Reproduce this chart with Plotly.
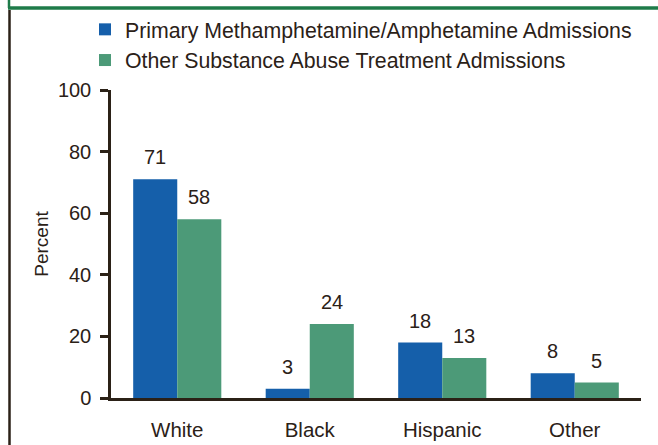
import plotly.graph_objects as go

categories = ["White", "Black", "Hispanic", "Other"]
meth_values = [71, 3, 18, 8]
other_values = [58, 24, 13, 5]
series_names = ["Primary Methamphetamine/Amphetamine Admissions",
                "Other Substance Abuse Treatment Admissions"]
y_ticks = [0, 20, 40, 60, 80, 100]

BLUE = "#155FAA"
GREEN = "#4C9A78"
INK = "#2B2117"
FRAME_GREEN = "#1E7B49"
FONT = "Liberation Sans, Arial, sans-serif"

fig = go.Figure()
fig.add_trace(go.Bar(x=categories, y=meth_values, name=series_names[0],
                     marker=dict(color=BLUE, line=dict(width=0))))
fig.add_trace(go.Bar(x=categories, y=other_values, name=series_names[1],
                     marker=dict(color=GREEN, line=dict(width=0))))

# value labels above bars
annotations = []
for i, c in enumerate(categories):
    for vals, off in ((meth_values, -0.165), (other_values, 0.165)):
        annotations.append(dict(x=i + off, y=vals[i], xref="x", yref="y",
                                text=str(vals[i]), showarrow=False,
                                yanchor="bottom", yshift=9,
                                font=dict(size=20, color=INK, family=FONT)))

W, H = 658, 445
L, R, T, B = 111, 17, 90, 47
pw, ph = W - L - R, H - T - B

def px(x):
    return (x - L) / pw

def py(y):
    return (H - B - y) / ph

shapes = [
    dict(type="line", xref="paper", yref="paper", x0=px(8), x1=px(660),
         y0=py(8), y1=py(8), line=dict(color=FRAME_GREEN, width=3.5)),
    dict(type="line", xref="paper", yref="paper", x0=px(9), x1=px(9),
         y0=py(-2), y1=py(8), line=dict(color=FRAME_GREEN, width=2.5)),
    dict(type="line", xref="paper", yref="paper", x0=px(9.5), x1=px(9.5),
         y0=py(10), y1=py(447), line=dict(color=INK, width=2.5)),
]

fig.update_layout(
    width=W, height=H,
    margin=dict(l=L, r=R, t=T, b=B, autoexpand=False),
    paper_bgcolor="white", plot_bgcolor="white",
    font=dict(family=FONT, color=INK, size=20),
    barmode="group", bargap=0.335, bargroupgap=0,
    showlegend=True,
    legend=dict(x=px(85), y=py(9), xanchor="left", yanchor="top",
                orientation="v", font=dict(size=21.3, color=INK, family=FONT),
                bgcolor="rgba(0,0,0,0)", tracegroupgap=0),
    annotations=annotations,
    shapes=shapes,
    xaxis=dict(type="category", showgrid=False, showline=True,
               linecolor=INK, linewidth=2.5, ticks="", ticklen=0,
               ticklabelstandoff=12, automargin=False,
               tickfont=dict(size=20.5, color=INK), range=[-0.5, 3.5]),
    yaxis=dict(range=[0, 100], tickvals=y_ticks, showgrid=False,
               showline=True, linecolor=INK, linewidth=2.5,
               ticks="outside", ticklen=8, tickwidth=2.5, tickcolor=INK,
               ticklabelstandoff=5, automargin=False,
               tickfont=dict(size=20, color=INK), zeroline=False,
               title=dict(text="Percent", font=dict(size=19, color=INK),
                          standoff=5)),
)

fig.write_html("out.html")
